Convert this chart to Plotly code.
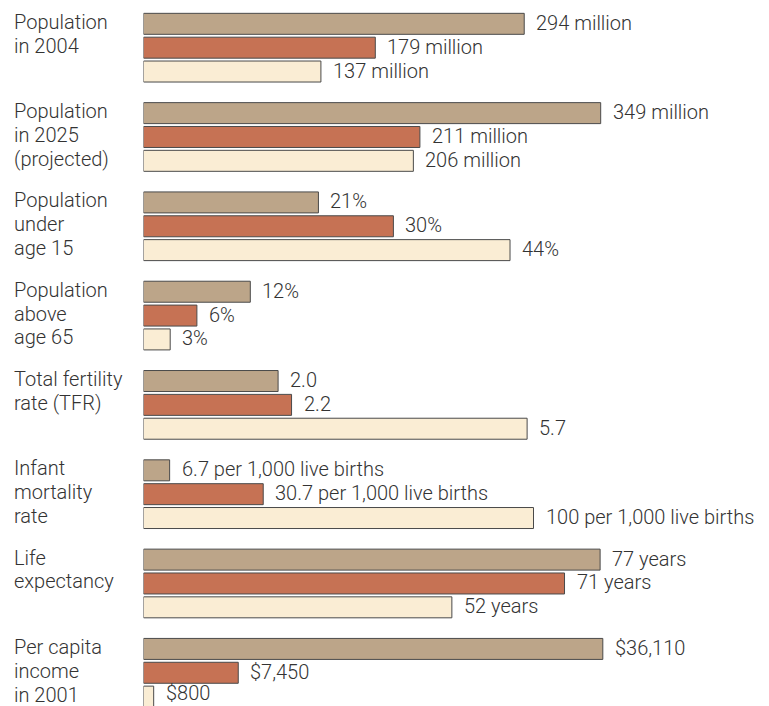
import plotly.graph_objects as go

# Demographic indicators for three countries
countries = ["United States", "Brazil", "Nigeria"]
indicator_lines = [
    ["Population", "in 2004"],
    ["Population", "in 2025", "(projected)"],
    ["Population", "under", "age 15"],
    ["Population", "above", "age 65"],
    ["Total fertility", "rate (TFR)"],
    ["Infant", "mortality", "rate"],
    ["Life", "expectancy"],
    ["Per capita", "income", "in 2001"],
]
us_values = [294, 349, 21, 12, 2.0, 6.7, 77, 36110]
brazil_values = [179, 211, 30, 6, 2.2, 30.7, 71, 7450]
nigeria_values = [137, 206, 44, 3, 5.7, 100, 52, 800]

# How each indicator's value is written next to its bar
label_formats = [
    lambda v: f"{v:g} million",
    lambda v: f"{v:g} million",
    lambda v: f"{v:g}%",
    lambda v: f"{v:g}%",
    lambda v: f"{v:.1f}",
    lambda v: f"{v:g} per 1,000 live births",
    lambda v: f"{v:g} years",
    lambda v: f"${v:,}",
]

# Each indicator has its own horizontal scale (pixels per unit)
px_per_unit = [1.295, 1.31, 8.33, 8.9, 67.3, 3.9, 5.93, 0.01272]

bar_colors = ["#BCA589", "#C67254", "#FAEDD4"]
outline = "#4a4a4a"
text_color = "#333333"
font_family = "Roboto, Liberation Sans, Arial, sans-serif"
text_font = dict(size=20, color=text_color, family=font_family, weight=300)

W, H = 769, 706
plot_left = 143.5
plot_w = W - plot_left
row_pitch = 23.85          # px between bar centres
group_pitch = 89.3         # px between groups
first_top = 11.9           # px from top of the first group's band
half_text = 12             # half the height of a label's text box

fig = go.Figure()
layout = dict(
    width=W, height=H,
    margin=dict(l=0, r=0, t=0, b=0),
    paper_bgcolor="white", plot_bgcolor="white",
    showlegend=False, bargap=0.12,
    font=dict(family=font_family, color=text_color, size=20),
)
annotations = []

for g in range(len(indicator_lines)):
    k = "" if g == 0 else str(g + 1)
    vals = [us_values[g], brazil_values[g], nigeria_values[g]]

    fig.add_trace(go.Bar(
        x=vals, y=countries, orientation="h",
        xaxis="x" + k, yaxis="y" + k,
        marker=dict(color=bar_colors, line=dict(color=outline, width=1)),
        hoverinfo="skip",
    ))

    top_px = first_top + g * group_pitch
    bot_px = min(top_px + 3 * row_pitch, H)
    visible_units = (bot_px - top_px) / row_pitch
    layout["xaxis" + k] = dict(
        domain=[plot_left / W, 1], range=[0, plot_w / px_per_unit[g]],
        visible=False, fixedrange=True, anchor="y" + k,
    )
    layout["yaxis" + k] = dict(
        domain=[1 - bot_px / H, 1 - top_px / H],
        type="category", categoryorder="array", categoryarray=countries,
        range=[-0.5 + visible_units, -0.5],
        visible=False, fixedrange=True, anchor="x" + k,
    )

    # value labels to the right of each bar (kept inside the page bottom)
    for b, (c, v) in enumerate(zip(countries, vals)):
        centre_px = top_px + (b + 0.5) * row_pitch
        lift = max(0.0, centre_px + half_text - H)
        annotations.append(dict(
            x=v, y=c, xref="x" + k, yref="y" + k,
            text=label_formats[g](v), showarrow=False,
            xanchor="left", yanchor="middle", xshift=10, yshift=1 + lift,
            font=text_font,
        ))

    # indicator name, one line per bar row
    for line, c in zip(indicator_lines[g], countries):
        annotations.append(dict(
            x=12 / W, y=c, xref="paper", yref="y" + k,
            text=line, showarrow=False,
            xanchor="left", yanchor="middle", yshift=2,
            font=text_font,
        ))

layout["annotations"] = annotations
fig.update_layout(**layout)
fig.write_html("out.html")
